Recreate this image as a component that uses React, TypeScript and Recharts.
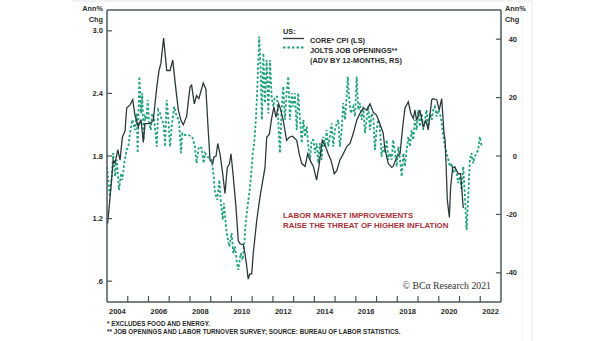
import React from "react";
import { LineChart, Line, XAxis, YAxis, ReferenceLine } from "recharts";

// ---- Data ----
// Core CPI, annual % change (left scale); dates as decimal years
const cpiDates = [
  2004.03, 2004.19, 2004.30, 2004.39, 2004.52, 2004.63, 2004.74, 2004.87, 2004.95, 2005.11,
  2005.24, 2005.35, 2005.51, 2005.64, 2005.75, 2005.83, 2006.07, 2006.23, 2006.40, 2006.51,
  2006.60, 2006.73, 2006.88, 2007.04, 2007.17, 2007.31, 2007.44, 2007.57, 2007.68, 2007.84,
  2008.00, 2008.08, 2008.21, 2008.32, 2008.43, 2008.64, 2008.77, 2008.88, 2008.97, 2009.10,
  2009.16, 2009.26, 2009.34, 2009.45, 2009.58, 2009.69, 2009.80, 2009.90, 2009.98, 2010.09,
  2010.22, 2010.33, 2010.41, 2010.57, 2010.65, 2010.74, 2010.81, 2010.89, 2010.98, 2011.05,
  2011.22, 2011.38, 2011.62, 2011.70, 2011.83, 2011.94, 2012.05, 2012.15, 2012.28, 2012.38,
  2012.50, 2012.66, 2012.79, 2012.95, 2013.15, 2013.27, 2013.39, 2013.55, 2013.68, 2013.79,
  2013.95, 2014.11, 2014.22, 2014.38, 2014.54, 2014.67, 2014.80, 2014.96, 2015.08, 2015.23,
  2015.39, 2015.56, 2015.72, 2015.88, 2016.04, 2016.20, 2016.36, 2016.52, 2016.68, 2016.84,
  2017.00, 2017.16, 2017.32, 2017.40, 2017.56, 2017.73, 2017.80, 2017.97, 2018.13, 2018.26,
  2018.37, 2018.53, 2018.65, 2018.77, 2018.85, 2018.93, 2019.09, 2019.25, 2019.38, 2019.49,
  2019.66, 2019.73, 2019.90, 2020.02, 2020.14, 2020.25, 2020.30, 2020.35, 2020.41, 2020.51,
  2020.57, 2020.67, 2020.78, 2020.94, 2021.05, 2021.18,
];
const cpiValues = [
  1.15, 1.50, 1.76, 1.73, 1.86, 1.76, 1.98, 2.04, 2.26, 2.29,
  2.34, 2.19, 2.08, 2.15, 1.93, 2.11, 2.11, 2.14, 2.46, 2.62,
  2.69, 2.93, 2.62, 2.62, 2.72, 2.46, 2.24, 2.14, 2.10, 2.18,
  2.46, 2.48, 2.30, 2.38, 2.35, 2.50, 2.44, 2.05, 1.76, 1.73,
  1.79, 1.80, 1.92, 1.82, 1.63, 1.44, 1.69, 1.72, 1.82, 1.60,
  1.31, 0.99, 0.96, 0.95, 0.87, 0.74, 0.62, 0.67, 0.67, 0.86,
  1.18, 1.41, 1.69, 1.98, 2.01, 2.16, 2.27, 2.17, 2.30, 2.24,
  2.14, 1.95, 1.98, 1.99, 1.95, 1.82, 1.73, 1.70, 1.82, 1.76,
  1.70, 1.57, 1.70, 1.95, 1.89, 1.82, 1.76, 1.63, 1.66, 1.76,
  1.82, 1.89, 1.92, 2.02, 2.14, 2.21, 2.26, 2.24, 2.30, 2.22,
  2.19, 2.11, 2.02, 1.87, 1.73, 1.69, 1.70, 1.79, 1.82, 2.08,
  2.26, 2.32, 2.21, 2.16, 2.24, 2.14, 2.24, 2.08, 2.14, 2.05,
  2.34, 2.35, 2.34, 2.24, 2.35, 2.02, 1.96, 1.73, 1.38, 1.21,
  1.50, 1.69, 1.69, 1.63, 1.63, 1.30,
];

// JOLTS job openings, annual % change, advanced 12 months (right scale)
const joltsDates = [
  2004.00, 2004.14, 2004.23, 2004.30, 2004.39, 2004.47, 2004.58, 2004.68, 2004.74, 2004.83,
  2004.95, 2005.03, 2005.11, 2005.22, 2005.35, 2005.43, 2005.48, 2005.56, 2005.64, 2005.70,
  2005.77, 2005.83, 2005.91, 2005.96, 2006.03, 2006.11, 2006.18, 2006.28, 2006.40, 2006.47,
  2006.56, 2006.64, 2006.73, 2006.80, 2006.88, 2006.96, 2007.04, 2007.12, 2007.24, 2007.36,
  2007.47, 2007.57, 2007.63, 2007.76, 2007.92, 2008.11, 2008.24, 2008.32, 2008.43, 2008.57,
  2008.66, 2008.73, 2008.84, 2009.05, 2009.13, 2009.21, 2009.32, 2009.42, 2009.48, 2009.58,
  2009.64, 2009.74, 2009.80, 2009.90, 2010.01, 2010.09, 2010.17, 2010.25, 2010.33, 2010.45,
  2010.54, 2010.61, 2010.70, 2010.76, 2010.86, 2010.93, 2011.03, 2011.10, 2011.18, 2011.25,
  2011.34, 2011.41, 2011.47, 2011.54, 2011.62, 2011.70, 2011.78, 2011.86, 2011.94, 2012.02,
  2012.10, 2012.21, 2012.28, 2012.34, 2012.42, 2012.50, 2012.58, 2012.66, 2012.74, 2012.82,
  2012.91, 2012.98, 2013.06, 2013.15, 2013.22, 2013.31, 2013.39, 2013.47, 2013.55, 2013.63,
  2013.71, 2013.79, 2013.87, 2013.95, 2014.03, 2014.11, 2014.19, 2014.27, 2014.35, 2014.43,
  2014.51, 2014.59, 2014.67, 2014.75, 2014.83, 2014.91, 2014.99, 2015.08, 2015.15, 2015.23,
  2015.32, 2015.39, 2015.48, 2015.56, 2015.61, 2015.67, 2015.76, 2015.88, 2015.96, 2016.04,
  2016.12, 2016.20, 2016.28, 2016.36, 2016.44, 2016.52, 2016.60, 2016.68, 2016.76, 2016.84,
  2016.92, 2017.00, 2017.08, 2017.16, 2017.24, 2017.32, 2017.40, 2017.49, 2017.56, 2017.64,
  2017.73, 2017.80, 2017.89, 2017.97, 2018.05, 2018.13, 2018.21, 2018.29, 2018.37, 2018.45,
  2018.53, 2018.61, 2018.69, 2018.77, 2018.85, 2018.93, 2019.01, 2019.09, 2019.17, 2019.25,
  2019.33, 2019.41, 2019.49, 2019.57, 2019.66, 2019.73, 2019.81, 2019.90, 2019.97, 2020.06,
  2020.14, 2020.22, 2020.30, 2020.38, 2020.46, 2020.54, 2020.62, 2020.70, 2020.78, 2020.86,
  2020.94, 2021.02, 2021.10, 2021.18, 2021.26, 2021.34, 2021.42, 2021.50, 2021.58, 2021.66,
  2021.74, 2021.82, 2021.90, 2021.98, 2022.07,
];
const joltsValues = [
  -3.6, -13.9, -7.0, 1.0, -7.0, -1.3, -11.6, -5.9, -8.2, -2.5,
  2.1, 3.2, 7.8, 12.4, 8.9, 14.6, 1.0, 27.2, 14.6, 21.5,
  5.5, 13.5, 12.4, 19.2, 11.2, 8.9, 14.6, 12.4, 3.2, 15.8,
  14.6, 12.4, 11.2, 3.2, 19.2, 12.4, 3.2, 10.1, 16.9, 13.5,
  12.4, 1.0, 7.8, 7.2, 7.2, 6.6, 3.2, -2.5, 3.2, 2.7,
  -2.5, 1.0, -0.2, -1.3, -5.9, -12.7, -15.0, -8.2, -15.0, -21.9,
  -16.2, -24.2, -27.6, -31.0, -26.4, -33.3, -31.0, -35.6, -39.0, -33.3,
  -35.6, -31.0, -21.9, -18.5, -12.7, -8.2, 1.0, 4.4, 12.4, 23.8,
  40.9, 29.5, 12.4, 35.2, 18.1, 32.9, 14.6, 32.9, 20.3, 16.9,
  20.3, 20.3, 8.9, 1.0, 15.8, 23.8, 12.4, 21.5, 27.2, 12.4,
  21.5, 16.9, 21.5, 8.9, 21.5, 12.4, 4.4, 12.4, 6.6, 10.1,
  3.2, -1.3, 5.5, 5.5, 1.0, 4.4, -2.5, 4.4, -1.3, 6.6,
  3.2, 8.9, 3.2, 6.6, 11.2, 3.2, 8.9, 11.2, 12.4, 3.2,
  8.9, 18.1, 12.4, 20.3, 27.2, 20.3, 14.6, 16.9, 13.5, 27.2,
  15.8, 18.1, 12.4, 16.9, 7.8, 12.4, 16.9, 8.9, 14.6, 13.5,
  2.1, 8.9, 12.4, 10.1, -0.2, 3.2, 1.0, 5.5, -1.3, 1.0,
  -1.3, 5.5, 1.0, -3.6, 3.2, -1.3, -7.0, 1.0, -3.6, 2.1,
  6.6, 3.2, 8.9, 5.5, 12.4, 8.9, 15.8, 10.1, 14.6, 8.9,
  12.4, 15.8, 10.1, 14.6, 12.4, 15.8, 16.9, 13.5, 15.8, 14.6,
  11.2, 6.6, 3.2, 1.0, -1.3, -3.6, -2.5, -5.9, -3.6, -5.9,
  -9.3, -7.0, -11.6, -3.6, -13.9, -25.3, -13.9, -1.3, 1.0, -2.5,
  -0.2, 1.0, 2.1, 6.6, 3.2,
];

// Axis ticks
const yearTickMarks = [2005, 2006, 2007, 2008, 2009, 2010, 2011, 2012, 2013, 2014, 2015, 2016, 2017, 2018, 2019, 2020, 2021, 2022];
const yearLabels = [2004, 2006, 2008, 2010, 2012, 2014, 2016, 2018, 2020, 2022];
const leftTicks = [0.6, 1.2, 1.8, 2.4, 3.0];
const rightTicks = [-40, -20, 0, 20, 40];

// ---- Styles ----
const AXIS = "#4a5757";
const CPI_COLOR = "#2e3a3a";
const JOLTS_COLOR = "#22a27b";
const RED = "#a8323a";
const SANS = "Liberation Sans, Arial, sans-serif";
const SERIF = "Liberation Serif, Times New Roman, serif";
const TXT = "#2a2a2a";

const cpiData = cpiDates.map((t, i) => ({ t, v: cpiValues[i] }));
const joltsData = joltsDates.map((t, i) => ({ t, v: joltsValues[i] }));
const xTicks = [...yearTickMarks, ...yearLabels.map((y) => y + 0.5)];

const XTick = (props: any) => {
  const { x, y, payload } = props;
  const v = payload.value as number;
  if (Number.isInteger(v)) {
    return <line x1={x} x2={x} y1={y} y2={y - 6} stroke={AXIS} strokeWidth={1.2} />;
  }
  return (
    <text x={x} y={y + 9.5} textAnchor="middle" dominantBaseline="central"
      fontFamily={SANS} fontWeight="bold" fontSize={7.5} fill={TXT}>
      {Math.floor(v)}
    </text>
  );
};

const LeftTick = (props: any) => {
  const { x, y, payload } = props;
  const v = payload.value as number;
  const label = v < 1 ? "." + Math.round(v * 10) : v.toFixed(1);
  return (
    <g>
      <line x1={x} x2={x + 5} y1={y} y2={y} stroke={AXIS} strokeWidth={1.2} />
      <text x={x - 4} y={y} textAnchor="end" dominantBaseline="central"
        fontFamily={SANS} fontWeight="bold" fontSize={7.5} fill={TXT}>
        {label}
      </text>
    </g>
  );
};

const RightTick = (props: any) => {
  const { x, y, payload } = props;
  return (
    <g>
      <line x1={x - 5} x2={x} y1={y} y2={y} stroke={AXIS} strokeWidth={1.2} />
      <text x={x + 16} y={y} textAnchor="end" dominantBaseline="central"
        fontFamily={SANS} fontWeight="bold" fontSize={7.5} fill={TXT}>
        {payload.value}
      </text>
    </g>
  );
};

export default function App() {
  const small = { fontFamily: SANS, fontWeight: "bold" as const, fill: TXT };
  return (
    <div style={{ position: "absolute", left: 0, top: 0, width: 605, height: 341, background: "#fff" }}>
      <LineChart width={605} height={341} data={cpiData}
        margin={{ top: 10, right: 0, bottom: 19, left: 0 }}>
        <XAxis dataKey="t" type="number" domain={[2004, 2023]} allowDataOverflow
          ticks={xTicks} interval={0} tick={<XTick />} tickLine={false}
          tickSize={0} tickMargin={0} height={20}
          axisLine={{ stroke: AXIS, strokeWidth: 1.5 }} />
        <YAxis yAxisId="L" orientation="left" width={107} domain={[0.4, 3.2]} allowDataOverflow
          ticks={leftTicks} interval={0} tick={<LeftTick />} tickLine={false}
          tickSize={0} tickMargin={0} axisLine={{ stroke: AXIS, strokeWidth: 1.5 }} />
        <YAxis yAxisId="R" orientation="right" width={104} domain={[-50, 50]} allowDataOverflow
          ticks={rightTicks} interval={0} tick={<RightTick />} tickLine={false}
          tickSize={0} tickMargin={0} axisLine={{ stroke: AXIS, strokeWidth: 1.5 }} />
        <ReferenceLine yAxisId="L" y={3.2} stroke={AXIS} strokeWidth={1.5} />
        <Line data={joltsData} dataKey="v" yAxisId="R" type="linear" stroke={JOLTS_COLOR}
          strokeWidth={1.8} strokeDasharray="2.5 2" dot={false} isAnimationActive={false} />
        <Line data={cpiData} dataKey="v" yAxisId="L" type="linear" stroke={CPI_COLOR}
          strokeWidth={1.3} dot={false} isAnimationActive={false} />
      </LineChart>
      <svg width={605} height={341} style={{ position: "absolute", left: 0, top: 0, pointerEvents: "none" }}>
        {/* faint panel frame */}
        <line x1={72} x2={532} y1={1} y2={1} stroke="#e6e6e6" strokeWidth={1} />
        <line x1={532} x2={532} y1={1} y2={341} stroke="#e6e6e6" strokeWidth={1} />
        <line x1={522} x2={522} y1={1} y2={341} stroke="#f2f2f2" strokeWidth={1} />

        {/* axis unit labels */}
        <text x={103} y={8} textAnchor="end" dominantBaseline="central" fontSize={7.3} {...small}>Ann%</text>
        <text x={103} y={19} textAnchor="end" dominantBaseline="central" fontSize={7.3} {...small}>Chg</text>
        <text x={505} y={8} textAnchor="start" dominantBaseline="central" fontSize={7.3} {...small}>Ann%</text>
        <text x={505} y={19} textAnchor="start" dominantBaseline="central" fontSize={7.3} {...small}>Chg</text>

        {/* legend */}
        <text x={283} y={31} dominantBaseline="central" fontSize={7.4} {...small}>US:</text>
        <line x1={283} x2={304} y1={38.5} y2={38.5} stroke={CPI_COLOR} strokeWidth={1.3} />
        <line x1={283} x2={304} y1={47.5} y2={47.5} stroke={JOLTS_COLOR} strokeWidth={1.8} strokeDasharray="2.5 2" />
        <text x={310} y={40.5} dominantBaseline="central" fontSize={7.4} {...small}>CORE* CPI (LS)</text>
        <text x={310} y={50} dominantBaseline="central" fontSize={7.4} {...small}>JOLTS JOB OPENINGS**</text>
        <text x={310} y={60} dominantBaseline="central" fontSize={7.4} {...small}>(ADV BY 12-MONTHS, RS)</text>

        {/* annotation */}
        <text x={283} y={215} dominantBaseline="central" fontFamily={SANS} fontWeight="bold" fontSize={7.9} fill={RED}>
          LABOR MARKET IMPROVEMENTS
        </text>
        <text x={283} y={225} dominantBaseline="central" fontFamily={SANS} fontWeight="bold" fontSize={7.9} fill={RED}>
          RAISE THE THREAT OF HIGHER INFLATION
        </text>

        {/* copyright */}
        <text x={491} y={285} textAnchor="end" dominantBaseline="central" fontFamily={SERIF} fontSize={9.8} fill="#333">
          © BCα Research 2021
        </text>

        {/* footnotes */}
        <text x={107} y={323.5} dominantBaseline="central" fontSize={6.3} {...small}>* EXCLUDES FOOD AND ENERGY.</text>
        <text x={107} y={331} dominantBaseline="central" fontSize={6.3} {...small}>
          ** JOB OPENINGS AND LABOR TURNOVER SURVEY; SOURCE: BUREAU OF LABOR STATISTICS.
        </text>
      </svg>
    </div>
  );
}
